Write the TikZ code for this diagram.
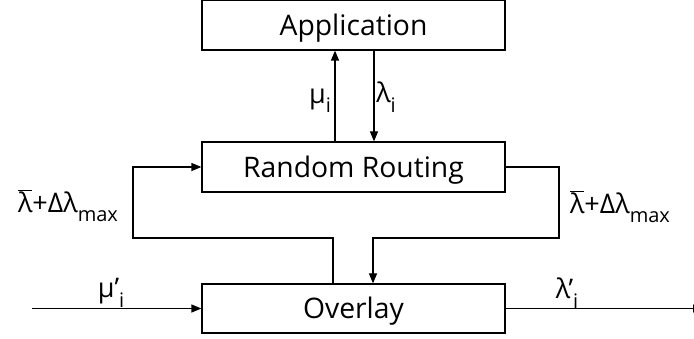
\documentclass[tikz,border=0pt]{standalone}
\usepackage{fontspec}
\setmainfont{Open Sans}
\usetikzlibrary{arrows.meta}
% lowered index in the label font
\newcommand\lowidx[1]{\raisebox{-0.35em}{\fontsize{20}{21}\selectfont #1}}
\newcommand\lbar{$\overline{\hbox{λ}}$}
\begin{document}
\begin{tikzpicture}[x=1pt,y=-1pt,
  blockbox/.style={draw, line width=1.2pt, minimum width=303pt, minimum height=50pt,
    inner sep=0pt, text height=20.4pt, text depth=0pt, font=\fontsize{28.3}{32}\selectfont},
  arr/.style={line width=1.2pt, -{Triangle[length=10pt,width=8pt]}},
  lbl/.style={inner sep=0pt, font=\fontsize{27}{31}\selectfont}]
\useasboundingbox (0,0) rectangle (694,339);

\node[blockbox] (app) at (353.5,25) {Application};
\node[blockbox] (rr)  at (353.5,167) {Random Routing};
\node[blockbox, minimum height=49pt] (ov) at (353.5,308.5) {Overlay};

\coordinate (lk) at (133,238);
\coordinate (rk) at (559,238);
\coordinate (in) at (32,308.5);
\coordinate (out) at (703,308.5);

% between application and routing
\draw[arr] ([xshift=-18.5pt]rr.north) -- ([xshift=-18.5pt]app.south);
\draw[arr] ([xshift=20.5pt]app.south) -- ([xshift=20.5pt]rr.north);

% feedback loops
\draw[arr] ([xshift=-20.5pt]ov.north) |- (lk) |- (rr.west);
\draw[arr] (rr.east) -| (rk) -| ([xshift=19.5pt]ov.north);

% overlay input and output
\draw[arr] (in) -- (ov.west);
\draw[arr] (ov.east) -- (out);

% labels
\node[lbl] (lmu) at (320,101) {μ\lowidx{i}};
\node[lbl] (llam) at (386,97) {λ\lowidx{i}};
\node[lbl] (lleft) at (68,206) {\lbar+Δλ\lowidx{max}};
\node[lbl] (lright) at (620,207) {\lbar+Δλ\lowidx{max}};
\node[lbl] (lmup) at (111,293) {μ’\lowidx{i}};
\node[lbl] (llamp) at (567,293) {λ’\lowidx{i}};
\end{tikzpicture}
\end{document}
